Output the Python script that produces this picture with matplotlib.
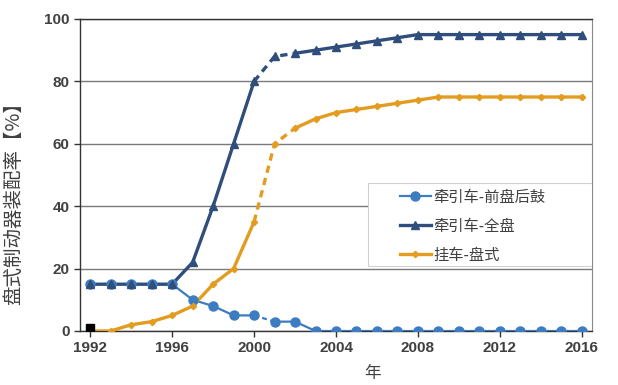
import numpy as np
import matplotlib.pyplot as plt
from matplotlib.patches import Rectangle

plt.rcParams['font.family'] = ['Noto Sans CJK SC', 'DejaVu Sans']

years = np.arange(1992, 2017)
# 牵引车-前盘后鼓
front_disc = [15, 15, 15, 15, 15, 10, 8, 5, 5, 3, 3, 0, 0, 0, 0, 0, 0, 0, 0, 0, 0, 0, 0, 0, 0]
# 牵引车-全盘
full_disc = [15, 15, 15, 15, 15, 22, 40, 60, 80, 88, 89, 90, 91, 92, 93, 94, 95, 95, 95, 95, 95, 95, 95, 95, 95]
# 挂车-盘式
trailer = [0, 0, 2, 3, 5, 8, 15, 20, 35, 60, 65, 68, 70, 71, 72, 73, 74, 75, 75, 75, 75, 75, 75, 75, 75]
labels = ['牵引车-前盘后鼓', '牵引车-全盘', '挂车-盘式']
dash_end = [2001, 2002, 2002]   # dashed from 2000 to this year
odd_point = (1992, 1)

c_light = '#3D7CC0'
c_navy = '#2F4E7B'
c_orange = '#E49C20'

fig = plt.figure(figsize=(6.18, 3.85), dpi=100)
ax = fig.add_axes([80 / 618, 54 / 385, 512 / 618, 312 / 385])

styles = [
    dict(color=c_light, marker='o', ms=6.5, lw=1.6),
    dict(color=c_navy, marker='^', ms=5.5, lw=2.4),
    dict(color=c_orange, marker='D', ms=3.2, lw=2.4),
]
handles = []
for vals, st, de, lab in zip([front_disc, full_disc, trailer], styles, dash_end, labels):
    v = np.array(vals, dtype=float)
    a = years <= 2000
    b = years >= de
    d = (years >= 2000) & (years <= de)
    ax.plot(years[a], v[a], color=st['color'], lw=st['lw'], zorder=3)
    ax.plot(years[b], v[b], color=st['color'], lw=st['lw'], zorder=3)
    ax.plot(years[d], v[d], color=st['color'], lw=st['lw'], ls=(0, (2.2, 1.6)), zorder=3)
    ax.plot(years, v, ls='none', marker=st['marker'], ms=st['ms'],
            color=st['color'], zorder=4)
    h, = ax.plot([], [], color=st['color'], lw=st['lw'], marker=st['marker'], ms=st['ms'])
    handles.append(h)

ax.plot([odd_point[0]], [odd_point[1]], 's', color='black', ms=6, zorder=5)

ax.set_xlim(1991.5, 2016.5)
ax.set_ylim(0, 100)
ax.set_xticks(np.arange(1992, 2017, 4))
ax.set_yticks(np.arange(0, 101, 20))
ax.grid(axis='y', color='#7a7a7a', lw=1.0)
ax.set_axisbelow(True)

for s in ['left', 'bottom', 'top']:
    ax.spines[s].set_color('#333333')
    ax.spines[s].set_linewidth(1.0)
ax.spines['right'].set_color('#888888')
ax.spines['right'].set_linewidth(0.8)

ax.tick_params(axis='both', direction='out', length=4, width=1, color='#333333',
               labelsize=11, labelcolor='#404040')
for t in ax.get_xticklabels() + ax.get_yticklabels():
    t.set_fontweight('bold')
    t.set_family(['Liberation Sans', 'DejaVu Sans'])

ax.set_ylabel('盘式制动器装配率【%】', fontsize=14, color='#404040')
ax.yaxis.set_label_coords(-0.11, 0.423)
ax.set_xlabel('年', fontsize=12, color='#404040')
ax.xaxis.set_label_coords(0.572, -0.108)

# legend box frame and entries
ax.add_patch(Rectangle((0.5625, 0.208), 0.4375, 0.266, transform=ax.transAxes,
                       facecolor='white', edgecolor='#d0d0d0', lw=0.8, zorder=6))
leg = ax.legend(handles, labels, loc='center left',
                bbox_to_anchor=(0.625, 0.336), frameon=False,
                fontsize=11, handlelength=2.0, handletextpad=0.2,
                labelspacing=0.78, borderpad=0, borderaxespad=0)
leg.set_zorder(7)
for t in leg.get_texts():
    t.set_color('#404040')

fig.savefig('out.png', dpi=100)
